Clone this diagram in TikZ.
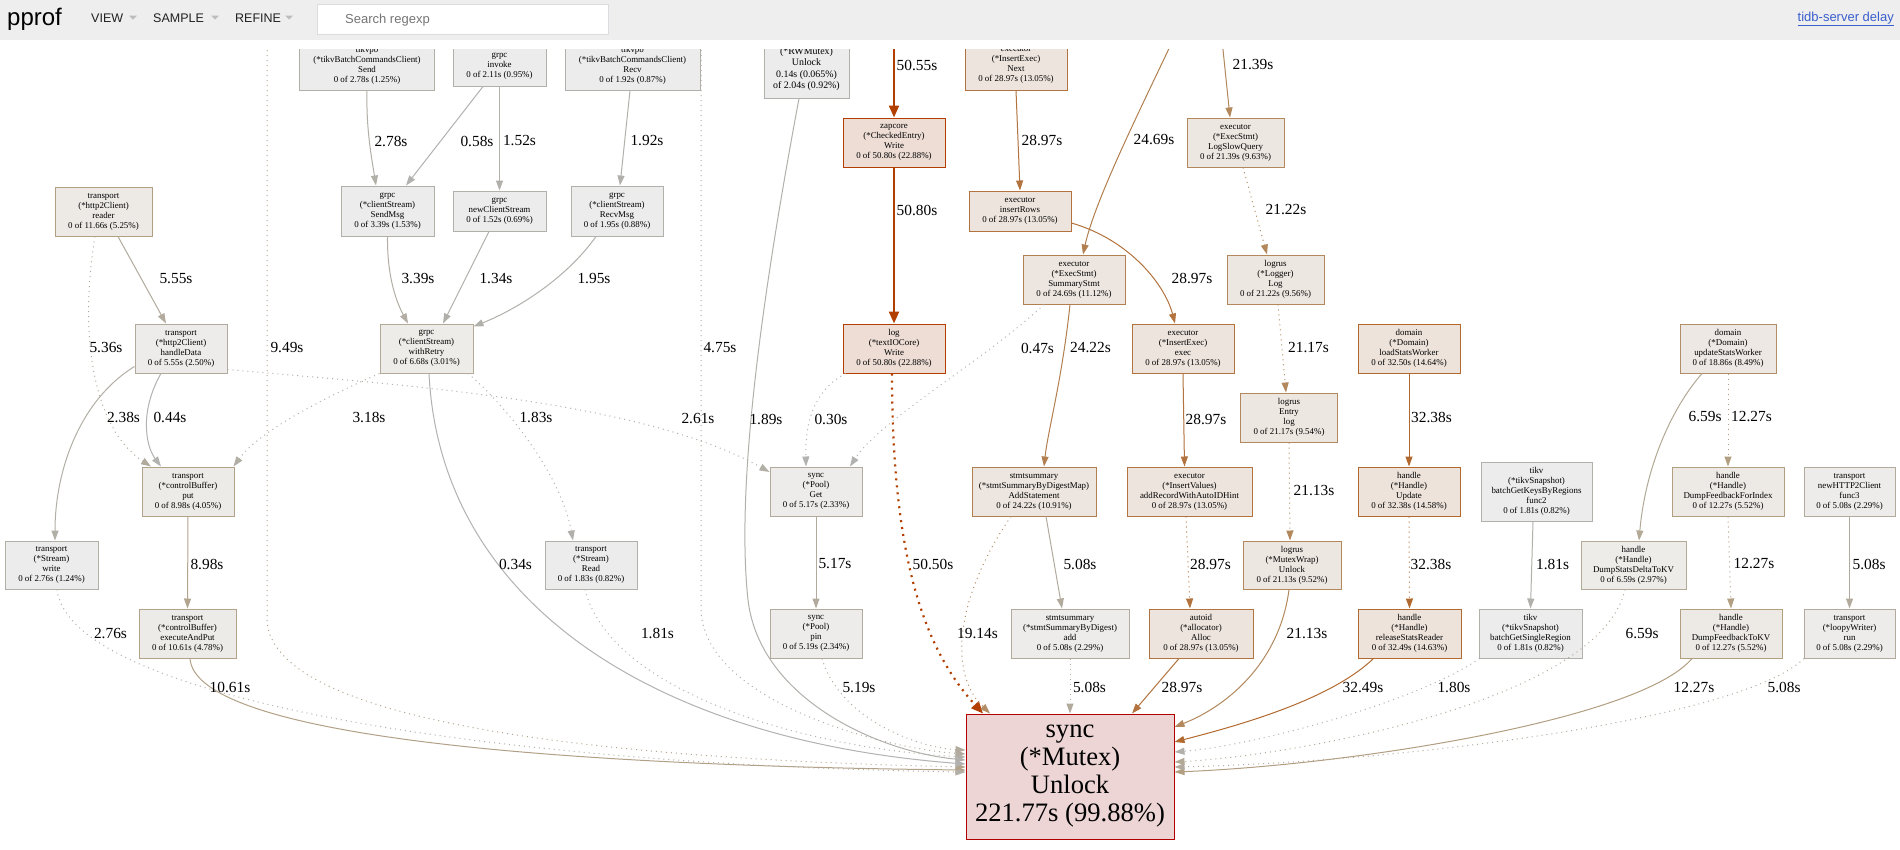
\documentclass[tikz,border=0pt]{standalone}
\usepackage{fontspec}
\setmainfont{Liberation Serif}
\newfontfamily\hdrfont{Liberation Sans}
\usetikzlibrary{arrows.meta}
% node border / fill colours (pprof dotColor)
\definecolor{bA}{HTML}{B2B0AA}\definecolor{fA}{HTML}{EDECEC}
\definecolor{bB}{HTML}{B2AFA7}\definecolor{fB}{HTML}{EDECEC}
\definecolor{bC}{HTML}{B2AB9D}\definecolor{fC}{HTML}{EDECEA}
\definecolor{bD}{HTML}{B2A997}\definecolor{fD}{HTML}{EDECE9}
\definecolor{bE}{HTML}{B2A28A}\definecolor{fE}{HTML}{EDEBE7}
\definecolor{bF}{HTML}{B29E81}\definecolor{fF}{HTML}{EDEAE6}
\definecolor{bG}{HTML}{B28E66}\definecolor{fG}{HTML}{EDE8E3}
\definecolor{bH}{HTML}{B2885C}\definecolor{fH}{HTML}{EDE7E1}
\definecolor{bI}{HTML}{B27F50}\definecolor{fI}{HTML}{EDE6E0}
\definecolor{bJ}{HTML}{B2733E}\definecolor{fJ}{HTML}{EDE4DD}
\definecolor{bK}{HTML}{B2692F}\definecolor{fK}{HTML}{EDE3DB}
\definecolor{bL}{HTML}{B23F00}\definecolor{fL}{HTML}{EDDDD5}
\definecolor{bM}{HTML}{B20000}\definecolor{fM}{HTML}{EDD5D5}
% edge colours
\definecolor{e0}{HTML}{B2B2B1}
\definecolor{e1}{HTML}{B2B0AB}
\definecolor{e2}{HTML}{B2AFA6}
\definecolor{e3}{HTML}{B2AEA4}
\definecolor{e4}{HTML}{B2ACA0}
\definecolor{e5}{HTML}{B2AB9D}
\definecolor{e6}{HTML}{B2A997}
\definecolor{e8}{HTML}{B2A48E}
\definecolor{e9}{HTML}{B2A38C}
\definecolor{e10}{HTML}{B2A187}
\definecolor{e12}{HTML}{B29E81}
\definecolor{e19}{HTML}{B28D65}
\definecolor{e21}{HTML}{B2885C}
\definecolor{e24}{HTML}{B27F50}
\definecolor{e29}{HTML}{B2733E}
\definecolor{e32}{HTML}{B2692F}
\definecolor{e50}{HTML}{B23F00}
\definecolor{hdrbg}{HTML}{EEEEEE}
\definecolor{hdrtxt}{HTML}{212121}
\definecolor{hdrtri}{HTML}{BDBDBD}
\definecolor{srchbd}{HTML}{DADCE0}
\definecolor{srchtx}{HTML}{757575}
\definecolor{linkblue}{HTML}{3A5FCD}
\tikzset{
  nodebox/.style={draw, rectangle, align=center, inner sep=1pt, line width=1pt,
    font=\fontsize{8.9}{10}\selectfont, text=black},
  cA/.style={nodebox, draw=bA, fill=fA},
  cB/.style={nodebox, draw=bB, fill=fB},
  cC/.style={nodebox, draw=bC, fill=fC},
  cD/.style={nodebox, draw=bD, fill=fD},
  cE/.style={nodebox, draw=bE, fill=fE},
  cF/.style={nodebox, draw=bF, fill=fF},
  cG/.style={nodebox, draw=bG, fill=fG},
  cH/.style={nodebox, draw=bH, fill=fH},
  cI/.style={nodebox, draw=bI, fill=fI},
  cJ/.style={nodebox, draw=bJ, fill=fJ},
  cK/.style={nodebox, draw=bK, fill=fK},
  cL/.style={nodebox, draw=bL, fill=fL},
  cM/.style={nodebox, draw=bM, fill=fM},
  lbl/.style={inner sep=0pt, font=\fontsize{15.4}{16}\selectfont, text=black},
  conn/.style={line width=1pt, -{Triangle[length=10pt,width=7pt]}},
  fat/.style={line width=2.2pt, -{Triangle[length=12pt,width=10pt]}},
  dotl/.style={dash pattern=on 1pt off 4pt},
  dotfat/.style={dash pattern=on 2pt off 5pt},
  menu/.style={anchor=base west, inner sep=0pt, text=hdrtxt, font=\hdrfont\fontsize{12.5}{13}\selectfont},
}
\begin{document}
\begin{tikzpicture}[x=1pt,y=-1pt]
\useasboundingbox (0,0) rectangle (1900,849);
\fill[white] (0,0) rectangle (1900,849);

% ---------------- nodes ----------------
\node[cB, minimum width=135pt, minimum height=50pt] (send) at (367,65) {tikvpb\\(*tikvBatchCommandsClient)\\Send\\0 of 2.78s (1.25\%)};
\node[cA, minimum width=93pt, minimum height=40pt] (invoke) at (499.5,66) {grpc\\invoke\\0 of 2.11s (0.95\%)};
\node[cA, minimum width=135pt, minimum height=50pt] (recv) at (632.5,65) {tikvpb\\(*tikvBatchCommandsClient)\\Recv\\0 of 1.92s (0.87\%)};
\node[cA, minimum width=85pt, minimum height=67pt, font=\fontsize{9.9}{11.3}\selectfont] (rwmutex) at (806.5,64.5) {sync\\(*RWMutex)\\Unlock\\0.14s (0.065\%)\\of 2.04s (0.92\%)};
\node[cJ, minimum width=102pt, minimum height=50pt] (next) at (1016,65) {executor\\(*InsertExec)\\Next\\0 of 28.97s (13.05\%)};

\node[cF, minimum width=97pt, minimum height=49pt] (reader) at (103.5,211.5) {transport\\(*http2Client)\\reader\\0 of 11.66s (5.25\%)};
\node[cB, minimum width=93pt, minimum height=50pt] (sendmsg) at (387.5,211) {grpc\\(*clientStream)\\SendMsg\\0 of 3.39s (1.53\%)};
\node[cA, minimum width=93pt, minimum height=40pt] (newcs) at (499.5,211) {grpc\\newClientStream\\0 of 1.52s (0.69\%)};
\node[cA, minimum width=92pt, minimum height=50pt] (recvmsg) at (617,211) {grpc\\(*clientStream)\\RecvMsg\\0 of 1.95s (0.88\%)};
\node[cL, minimum width=102pt, minimum height=49pt] (zapcore) at (894,142.5) {zapcore\\(*CheckedEntry)\\Write\\0 of 50.80s (22.88\%)};
\node[cJ, minimum width=102pt, minimum height=40pt] (insertrows) at (1020,211) {executor\\insertRows\\0 of 28.97s (13.05\%)};
\node[cH, minimum width=97pt, minimum height=49pt] (logslow) at (1235.5,142.5) {executor\\(*ExecStmt)\\LogSlowQuery\\0 of 21.39s (9.63\%)};
\node[cI, minimum width=102pt, minimum height=49pt] (summary) at (1074,279.5) {executor\\(*ExecStmt)\\SummaryStmt\\0 of 24.69s (11.12\%)};
\node[cH, minimum width=97pt, minimum height=49pt] (logger) at (1275.5,279.5) {logrus\\(*Logger)\\Log\\0 of 21.22s (9.56\%)};

\node[cC, minimum width=92pt, minimum height=49pt] (handledata) at (181,348.5) {transport\\(*http2Client)\\handleData\\0 of 5.55s (2.50\%)};
\node[cD, minimum width=93pt, minimum height=49pt] (withretry) at (426.5,348.5) {grpc\\(*clientStream)\\withRetry\\0 of 6.68s (3.01\%)};
\node[cL, minimum width=102pt, minimum height=49pt] (logw) at (894,348.5) {log\\(*textIOCore)\\Write\\0 of 50.80s (22.88\%)};
\node[cJ, minimum width=102pt, minimum height=49pt] (exec) at (1183,348.5) {executor\\(*InsertExec)\\exec\\0 of 28.97s (13.05\%)};
\node[cH, minimum width=97pt, minimum height=49pt] (entry) at (1289,417.5) {logrus\\Entry\\log\\0 of 21.17s (9.54\%)};
\node[cK, minimum width=102pt, minimum height=49pt] (loadstats) at (1409,348.5) {domain\\(*Domain)\\loadStatsWorker\\0 of 32.50s (14.64\%)};
\node[cG, minimum width=96pt, minimum height=49pt] (updatestats) at (1728,348.5) {domain\\(*Domain)\\updateStatsWorker\\0 of 18.86s (8.49\%)};

\node[cE, minimum width=92pt, minimum height=49pt] (put) at (188,491.5) {transport\\(*controlBuffer)\\put\\0 of 8.98s (4.05\%)};
\node[cC, minimum width=92pt, minimum height=49pt] (poolget) at (816,491.5) {sync\\(*Pool)\\Get\\0 of 5.17s (2.33\%)};
\node[cI, minimum width=124pt, minimum height=49pt] (addstmt) at (1034,491.5) {stmtsummary\\(*stmtSummaryByDigestMap)\\AddStatement\\0 of 24.22s (10.91\%)};
\node[cJ, minimum width=125pt, minimum height=49pt] (addrecord) at (1189.5,491.5) {executor\\(*InsertValues)\\addRecordWithAutoIDHint\\0 of 28.97s (13.05\%)};
\node[cK, minimum width=102pt, minimum height=49pt] (update) at (1409,491.5) {handle\\(*Handle)\\Update\\0 of 32.38s (14.58\%)};
\node[cA, minimum width=111pt, minimum height=59pt] (batchkeys) at (1536.5,491.5) {tikv\\(*tikvSnapshot)\\batchGetKeysByRegions\\func2\\0 of 1.81s (0.82\%)};
\node[cF, minimum width=112pt, minimum height=49pt] (dumpfbidx) at (1728,491.5) {handle\\(*Handle)\\DumpFeedbackForIndex\\0 of 12.27s (5.52\%)};
\node[cC, minimum width=91pt, minimum height=49pt] (func3) at (1849.5,491.5) {transport\\newHTTP2Client\\func3\\0 of 5.08s (2.29\%)};

\node[cB, minimum width=93pt, minimum height=48pt] (write) at (51.5,565) {transport\\(*Stream)\\write\\0 of 2.76s (1.24\%)};
\node[cA, minimum width=92pt, minimum height=48pt] (read) at (591,565) {transport\\(*Stream)\\Read\\0 of 1.83s (0.82\%)};
\node[cH, minimum width=98pt, minimum height=48pt] (mutexwrap) at (1292,565) {logrus\\(*MutexWrap)\\Unlock\\0 of 21.13s (9.52\%)};
\node[cD, minimum width=105pt, minimum height=48pt] (dumpdelta) at (1633.5,565) {handle\\(*Handle)\\DumpStatsDeltaToKV\\0 of 6.59s (2.97\%)};

\node[cE, minimum width=97pt, minimum height=49pt] (execput) at (187.5,633.5) {transport\\(*controlBuffer)\\executeAndPut\\0 of 10.61s (4.78\%)};
\node[cC, minimum width=92pt, minimum height=49pt] (pin) at (816,633.5) {sync\\(*Pool)\\pin\\0 of 5.19s (2.34\%)};
\node[cC, minimum width=118pt, minimum height=49pt] (stmtadd) at (1070,633.5) {stmtsummary\\(*stmtSummaryByDigest)\\add\\0 of 5.08s (2.29\%)};
\node[cJ, minimum width=104pt, minimum height=49pt] (alloc) at (1201,633.5) {autoid\\(*allocator)\\Alloc\\0 of 28.97s (13.05\%)};
\node[cK, minimum width=103pt, minimum height=49pt] (releasestats) at (1409.5,633.5) {handle\\(*Handle)\\releaseStatsReader\\0 of 32.49s (14.63\%)};
\node[cA, minimum width=103pt, minimum height=49pt] (batchsingle) at (1530.5,633.5) {tikv\\(*tikvSnapshot)\\batchGetSingleRegion\\0 of 1.81s (0.82\%)};
\node[cF, minimum width=102pt, minimum height=49pt] (dumpfbkv) at (1731,633.5) {handle\\(*Handle)\\DumpFeedbackToKV\\0 of 12.27s (5.52\%)};
\node[cC, minimum width=91pt, minimum height=49pt] (loopy) at (1849.5,633.5) {transport\\(*loopyWriter)\\run\\0 of 5.08s (2.29\%)};

\node[cM, minimum width=208pt, minimum height=125pt, font=\fontsize{26.6}{28}\selectfont] (mutex) at (1070,776.5) {sync\\(*Mutex)\\Unlock\\221.77s (99.88\%)};

% free ends under the header
\coordinate (t9) at (267,40);
\coordinate (t4) at (701,40);
\coordinate (t50) at (894,40);
\coordinate (t24) at (1173,40);
\coordinate (t21) at (1222,40);

% ---------------- edges ----------------
\draw[conn,draw=e2] (send.south) .. controls (366,130) and (372,160) .. ([xshift=-11.5pt]sendmsg.north);
\draw[conn,draw=e0] ([xshift=-16.5pt]invoke.south) -- ([xshift=18.5pt]sendmsg.north);
\draw[conn,draw=e1] (invoke.south) -- (newcs.north);
\draw[conn,draw=e1] ([xshift=-2.5pt]recv.south) -- ([xshift=3pt]recvmsg.north);
\draw[conn,draw=e3] (sendmsg.south) .. controls (387,280) and (398,305) .. ([xshift=-18.5pt]withretry.north);
\draw[conn,draw=e1] ([xshift=-10.5pt]newcs.south) -- ([xshift=16.5pt]withretry.north);
\draw[conn,draw=e1] ([xshift=-21pt]recvmsg.south) .. controls (565,280) and (515,310) .. ([yshift=-3pt]withretry.north east);
\draw[conn,draw=e5] ([xshift=14.5pt]reader.south) -- ([xshift=-15pt]handledata.north);
\draw[conn,dotl,draw=e5] ([xshift=-8.5pt]reader.south) .. controls (78,340) and (95,430) .. ([xshift=-37pt]put.north);
\draw[conn,draw=e2] ([yshift=-18pt]handledata.west) .. controls (80,400) and (55,470) .. ([xshift=3.5pt]write.north);
\draw[conn,draw=e0] ([xshift=-20pt]handledata.south) .. controls (140,410) and (145,445) .. ([xshift=-27pt]put.north);
\draw[conn,dotl,draw=e2] ([yshift=-21pt]handledata.east) .. controls (400,385) and (640,400) .. ([yshift=19.5pt]poolget.west);
\draw[conn,dotl,draw=e3] (withretry.south west) .. controls (330,395) and (260,430) .. ([xshift=-1pt]put.north east);
\draw[conn,dotl,draw=e1] ([xshift=41.5pt]withretry.south) .. controls (500,400) and (560,470) .. ([xshift=-18pt]read.north);
\draw[conn,draw=e8] (put.south) -- (execput.north);
\draw[fat,draw=e50] (t50) -- (zapcore.north);
\draw[fat,draw=e50] (zapcore.south) -- (logw.north);
\draw[conn,draw=e29] (next.south) -- (insertrows.north);
\draw[conn,draw=e24] (t24) .. controls (1140,110) and (1095,200) .. ([xshift=9pt]summary.north);
\draw[conn,draw=e21] (t21) -- ([xshift=-5.5pt]logslow.north);
\draw[conn,draw=e29] ([yshift=-12pt]insertrows.east) .. controls (1130,240) and (1165,285) .. ([xshift=-8pt]exec.north);
\draw[conn,dotl,draw=e21] ([xshift=7.5pt]logslow.south) -- ([xshift=-8.5pt]logger.north);
\draw[conn,dotl,draw=e21] ([xshift=2.5pt]logger.south) -- ([xshift=-3pt]entry.north);
\draw[conn,dotl,draw=e0] ([xshift=-30pt]summary.south) .. controls (985,360) and (880,420) .. ([xshift=34pt]poolget.north);
\draw[conn,draw=e24] ([xshift=-4pt]summary.south) .. controls (1062,380) and (1048,430) .. ([xshift=10pt]addstmt.north);
\draw[conn,dotl,draw=e0] ([xshift=3pt]logw.south west) .. controls (815,390) and (805,420) .. ([xshift=-10pt]poolget.north);
\draw[conn,draw=e29] (exec.south) -- ([xshift=-5pt]addrecord.north);
\draw[conn,dotl,draw=e21] (entry.south) -- ([xshift=-2pt]mutexwrap.north);
\draw[conn,draw=e32] (loadstats.south) -- (update.north);
\draw[conn,draw=e6] ([xshift=-26pt]updatestats.south) .. controls (1670,410) and (1645,470) .. ([xshift=5.5pt]dumpdelta.north);
\draw[conn,dotl,draw=e12] (updatestats.south) -- (dumpfbidx.north);
\draw[conn,draw=e5] (poolget.south) -- (pin.north);
\draw[conn,draw=e5] ([xshift=12pt]addstmt.south) -- ([xshift=-8pt]stmtadd.north);
\draw[conn,dotl,draw=e29] ([xshift=-3.5pt]addrecord.south) -- ([xshift=-11pt]alloc.north);
\draw[conn,dotl,draw=e32] (update.south) -- (releasestats.north);
\draw[conn,draw=e1] ([xshift=-3.5pt]batchkeys.south) -- (batchsingle.north);
\draw[conn,dotl,draw=e12] (dumpfbidx.south) -- (dumpfbkv.north);
\draw[conn,draw=e5] (func3.south) -- (loopy.north);

% into sync (*Mutex) Unlock
\draw[conn,draw=e10] ([xshift=2.5pt]execput.south) .. controls (195,730) and (500,765) .. ([yshift=6.5pt]mutex.west);
\draw[conn,dotl,draw=e2] ([xshift=5.5pt]write.south) .. controls (70,700) and (500,765) .. ([yshift=4.5pt]mutex.west);
\draw[conn,dotl,draw=e9] (t9) -- (267,620) .. controls (272,730) and (650,760) .. ([yshift=9.5pt]mutex.west);
\draw[conn,dotl,draw=e1] ([xshift=-6pt]read.south) .. controls (610,690) and (800,748) .. ([yshift=19.5pt]mutex.west);
\draw[conn,draw=e0] ([xshift=2.5pt]withretry.south) .. controls (440,600) and (650,740) .. ([yshift=12.5pt]mutex.west);
\draw[conn,dotl,draw=e4] (t4) -- (701,610) .. controls (704,700) and (880,748) .. ([yshift=22.5pt]mutex.west);
\draw[conn,draw=e1] ([xshift=-7.5pt]rwmutex.south) .. controls (765,280) and (735,480) .. (748,600) .. controls (760,700) and (880,752) .. ([yshift=16.5pt]mutex.west);
\draw[conn,dotl,draw=e5] ([xshift=6pt]pin.south) .. controls (840,720) and (920,748) .. ([yshift=26.5pt]mutex.west);
\draw[fat,dotfat,draw=e50] ([xshift=-2pt]logw.south) .. controls (892,560) and (925,650) .. ([xshift=-87pt]mutex.north);
\draw[conn,dotl,draw=e19] ([xshift=-23pt]addstmt.south) .. controls (960,590) and (945,670) .. ([xshift=-80pt]mutex.north);
\draw[conn,dotl,draw=e5] (stmtadd.south) -- (mutex.north);
\draw[conn,draw=e29] ([xshift=-22pt]alloc.south) -- ([xshift=62pt]mutex.north);
\draw[conn,draw=e21] ([xshift=-3pt]mutexwrap.south) .. controls (1280,660) and (1230,705) .. ([yshift=49.5pt]mutex.east);
\draw[conn,draw=e32] ([xshift=-36pt]releasestats.south) .. controls (1330,700) and (1240,725) .. ([yshift=34.5pt]mutex.east);
\draw[conn,dotl,draw=e1] ([xshift=1pt]batchsingle.south west) .. controls (1420,700) and (1260,745) .. ([yshift=24.5pt]mutex.east);
\draw[conn,dotl,draw=e6] ([xshift=-8.5pt]dumpdelta.south) .. controls (1600,700) and (1300,755) .. ([yshift=14.5pt]mutex.east);
\draw[conn,draw=e12] ([xshift=-39pt]dumpfbkv.south) .. controls (1640,720) and (1350,765) .. ([yshift=4.5pt]mutex.east);
\draw[conn,dotl,draw=e5] ([xshift=0.5pt]loopy.south west) .. controls (1740,720) and (1400,762) .. ([yshift=9.5pt]mutex.east);

% ---------------- edge labels ----------------
\node[lbl] (L1) at (917,65) {50.55s};
\node[lbl] (L2) at (1253,65) {21.39s};
\node[lbl] (L3) at (391,141) {2.78s};
\node[lbl] (L4) at (477,141) {0.58s};
\node[lbl] (L5) at (519.5,141) {1.52s};
\node[lbl] (L6) at (647,141) {1.92s};
\node[lbl] (L7) at (1042,140) {28.97s};
\node[lbl] (L8) at (1154,140) {24.69s};
\node[lbl] (L9) at (917,210) {50.80s};
\node[lbl] (L10) at (1286,210) {21.22s};
\node[lbl] (L11) at (176,279) {5.55s};
\node[lbl] (L12) at (418,279) {3.39s};
\node[lbl] (L13) at (496,279) {1.34s};
\node[lbl] (L14) at (594,279) {1.95s};
\node[lbl] (L15) at (1192,278) {28.97s};
\node[lbl] (L16) at (106,348) {5.36s};
\node[lbl] (L17) at (287,348) {9.49s};
\node[lbl] (L18) at (720,348) {4.75s};
\node[lbl] (L19) at (1037.5,348) {0.47s};
\node[lbl] (L20) at (1090.5,348) {24.22s};
\node[lbl] (L21) at (1308.5,348) {21.17s};
\node[lbl] (L22) at (123.5,417) {2.38s};
\node[lbl] (L23) at (170,417) {0.44s};
\node[lbl] (L24) at (369,417) {3.18s};
\node[lbl] (L25) at (536,417) {1.83s};
\node[lbl] (L26) at (698,419) {2.61s};
\node[lbl] (L27) at (766,419) {1.89s};
\node[lbl] (L28) at (831,419) {0.30s};
\node[lbl] (L29) at (1206,419) {28.97s};
\node[lbl] (L30) at (1431.5,417) {32.38s};
\node[lbl] (L31) at (1705,417) {6.59s};
\node[lbl] (L32) at (1751.5,417) {12.27s};
\node[lbl] (L33) at (1314,491) {21.13s};
\node[lbl] (L34) at (207,564) {8.98s};
\node[lbl] (L35) at (515.5,564) {0.34s};
\node[lbl] (L36) at (835,564) {5.17s};
\node[lbl] (L37) at (933,564) {50.50s};
\node[lbl] (L38) at (1080,564) {5.08s};
\node[lbl] (L39) at (1210.5,564) {28.97s};
\node[lbl] (L40) at (1431,564) {32.38s};
\node[lbl] (L41) at (1552.5,564) {1.81s};
\node[lbl] (L42) at (1754,564) {12.27s};
\node[lbl] (L43) at (1869,564) {5.08s};
\node[lbl] (L44) at (110.5,633) {2.76s};
\node[lbl] (L45) at (657.5,633) {1.81s};
\node[lbl] (L46) at (977.5,633) {19.14s};
\node[lbl] (L47) at (1307,634) {21.13s};
\node[lbl] (L48) at (1642,634) {6.59s};
\node[lbl] (L49) at (230,687) {10.61s};
\node[lbl] (L50) at (859,687) {5.19s};
\node[lbl] (L51) at (1089.5,687) {5.08s};
\node[lbl] (L52) at (1182,687) {28.97s};
\node[lbl] (L53) at (1363,687) {32.49s};
\node[lbl] (L54) at (1454,687) {1.80s};
\node[lbl] (L55) at (1694,687) {12.27s};
\node[lbl] (L56) at (1784,687) {5.08s};

% ---------------- header bar (graph viewport starts below it) ----------------
\fill[white] (0,40) rectangle (1900,48.5);
\fill[hdrbg] (0,0) rectangle (1900,40);
\node[anchor=base west, inner sep=0pt, text=black, font=\hdrfont\fontsize{24}{24}\selectfont] (logo) at (7,25) {pprof};
\node[menu] (mview) at (91,22) {VIEW};
\node[menu] (msample) at (153,22) {SAMPLE};
\node[menu] (mrefine) at (235,22) {REFINE};
\fill[hdrtri] (129,15.5) -- (137,15.5) -- (133,19.5) -- cycle;
\fill[hdrtri] (211,15.5) -- (219,15.5) -- (215,19.5) -- cycle;
\fill[hdrtri] (285,15.5) -- (293,15.5) -- (289,19.5) -- cycle;
\draw[draw=srchbd, fill=white, line width=0.8pt] (317,4) rectangle (608,34);
\node[anchor=base west, inner sep=0pt, text=srchtx, font=\hdrfont\fontsize{13}{14}\selectfont] (search) at (345,23) {Search regexp};
\node[anchor=base east, inner sep=0pt, text=linkblue, font=\hdrfont\fontsize{13}{14}\selectfont] (link) at (1894,21) {\underline{tidb-server delay}};
\end{tikzpicture}
\end{document}
